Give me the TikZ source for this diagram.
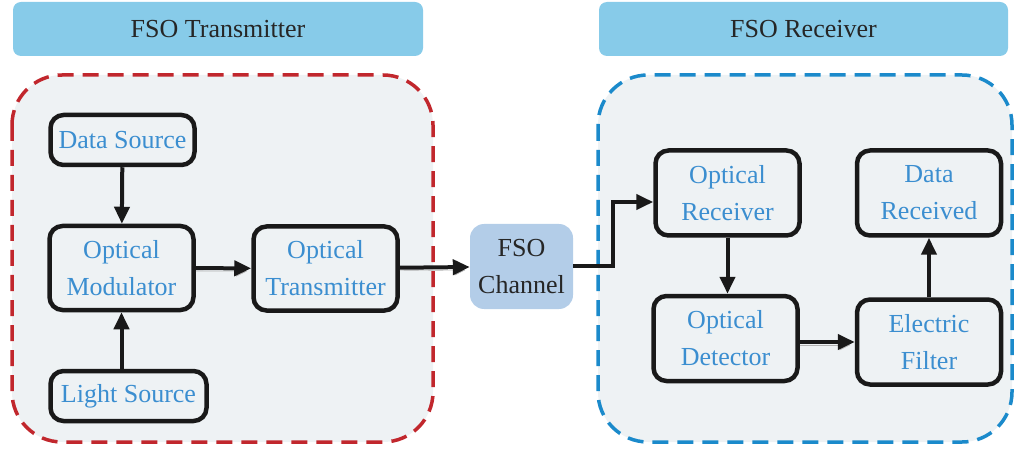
\documentclass[tikz,border=0pt]{standalone}
\usepackage{fontspec}
\setmainfont{Liberation Serif}
\usetikzlibrary{arrows.meta}
\definecolor{titleblue}{HTML}{87CBE9}
\definecolor{chanblue}{HTML}{B3CDE8}
\definecolor{panelgray}{HTML}{EEF2F4}
\definecolor{txred}{HTML}{C1272D}
\definecolor{rxblue}{HTML}{1B8ACB}
\definecolor{labelblue}{HTML}{3B8ED0}
\tikzset{
  title/.style={fill=titleblue,rounded corners=8pt,text=black!85,inner sep=0pt,
    minimum width=410pt,minimum height=54pt,font=\fontsize{26}{30}\selectfont},
  panel/.style={fill=panelgray,line width=3.5pt,dash pattern=on 16pt off 9pt,rounded corners=50pt},
  block/.style={draw=black!90,line width=4.5pt,rounded corners=13pt,fill=panelgray,
    text=labelblue,align=center,inner sep=0pt,minimum width=144pt,
    font=\fontsize{26}{37}\selectfont},
  chan/.style={fill=chanblue,rounded corners=14pt,text=black!85,align=center,inner sep=0pt,
    minimum width=103pt,minimum height=85pt,font=\fontsize{26}{37}\selectfont},
  link/.style={line width=4pt,draw=black!90,-{Triangle[length=17pt,width=15pt]}},
  shadowed/.style={preaction={draw=black!30,transform canvas={yshift=-3pt}}}
}
\begin{document}
\begin{tikzpicture}[x=1pt,y=-1pt,line join=miter]
  \useasboundingbox (0,0) rectangle (1015,449);
  % headers
  \node[title] (txtitle) at (218,29) {FSO Transmitter};
  \node[title,minimum width=409pt] (rxtitle) at (803.5,29) {FSO Receiver};
  % dashed panels
  \draw[panel,draw=txred] (12,75) rectangle (433,442);
  \draw[panel,draw=rxblue] (598,75) rectangle (1012,442);
  % transmitter side
  \node[block,minimum height=50pt] (ds) at (122.5,140) {Data Source};
  \node[block,minimum height=84pt] (mod) at (121.5,268) {Optical\\Modulator};
  \node[block,minimum height=84pt] (otx) at (325.5,268.5) {Optical\\Transmitter};
  \node[block,minimum width=156pt,minimum height=50pt] (ls) at (128.5,396) {Light Source};
  % channel
  \node[chan] (ch) at (521.5,266.5) {FSO\\Channel};
  % receiver side
  \node[block,minimum height=85pt] (orx) at (727.5,193) {Optical\\Receiver};
  \node[block,minimum height=85pt] (drx) at (929,193) {Data\\Received};
  \node[block,minimum height=85pt] (odet) at (725.5,338.5) {Optical\\Detector};
  \node[block,minimum height=85pt] (ef) at (929,342) {Electric\\Filter};
  \coordinate (rxin) at ([yshift=-9pt]orx.west);
  % connectors
  \draw[link] (ds) -- (mod);
  \draw[link] (ls.north -| mod) -- (mod);
  \draw[link,shadowed] (mod) -- (otx);
  \draw[link,shadowed] (otx) -- (ch);
  \draw[link] (ch.east) -- ++(40,0) |- (rxin);
  \draw[link] (orx.south) -- (orx.south |- odet.north);
  \draw[link,shadowed] (odet.east |- ef) -- (ef.west);
  \draw[link] (ef) -- (drx);
\end{tikzpicture}
\end{document}
